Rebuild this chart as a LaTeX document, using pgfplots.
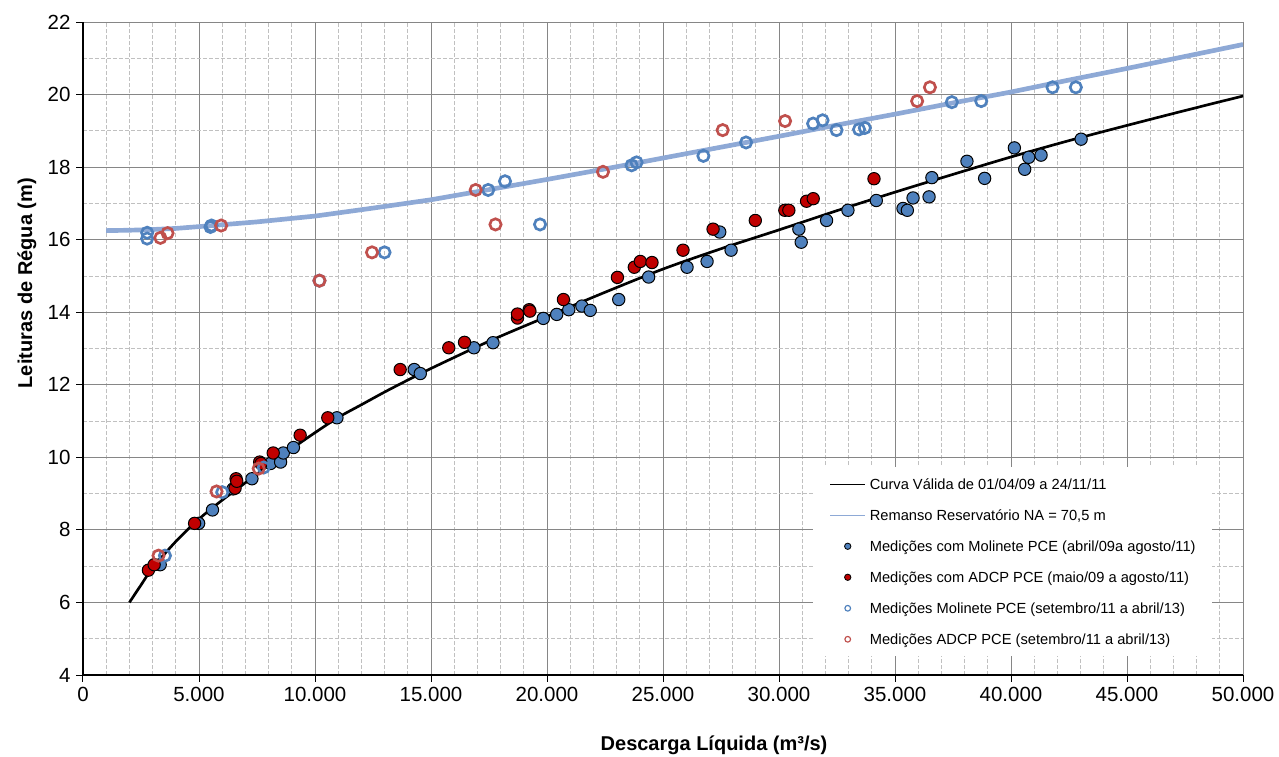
\documentclass[border=0pt]{standalone}
\usepackage{fontspec}
\setmainfont{Liberation Sans}
\usepackage{pgfplots}
\pgfplotsset{compat=1.18}
\definecolor{mblue}{HTML}{4F81BD}
\definecolor{mred}{HTML}{C00000}
\definecolor{oblue}{HTML}{4F81BD}
\definecolor{ored}{HTML}{C0504D}
\definecolor{rline}{RGB}{142,169,214}
\definecolor{majgrid}{HTML}{868686}
\definecolor{mingrid}{HTML}{C0C0C0}
\begin{document}
\begin{tikzpicture}
\begin{axis}[
  scale only axis, width=696pt, height=391.8pt,
  xmin=0, xmax=50000, ymin=4, ymax=22,
  scaled x ticks=false, scaled y ticks=false,
  axis x line*=bottom, axis y line*=left,
  x axis line style={black,line width=1pt},
  y axis line style={black,line width=1.3pt},
  xtick={0,5000,...,50000},
  xticklabels={0,5.000,10.000,15.000,20.000,25.000,30.000,35.000,40.000,45.000,50.000},
  ytick={4,6,...,22},
  yticklabels={4,6,8,10,12,14,16,18,20,22},
  minor x tick num=4, minor y tick num=1,
  grid=both,
  major grid style={majgrid,line width=0.6pt},
  minor grid style={mingrid,line width=0.5pt,dash pattern=on 2.4pt off 1.2pt},
  tick align=outside, major tick length=4pt, minor tick length=0pt,
  tick style={black,line width=0.6pt},
  ticklabel style={font=\fontsize{12.3}{14}\selectfont},
  xlabel={Descarga Líquida (m³/s)},
  ylabel={Leituras de Régua (m)},
  every axis x label/.style={at={(axis description cs:0.544,-0.1072)}, anchor=center, font=\bfseries\fontsize{12}{14}\selectfont},
  every axis y label/.style={at={(axis description cs:-0.0483,0.6)}, rotate=90, anchor=center, font=\bfseries\fontsize{12}{14}\selectfont},
  legend style={at={(rel axis cs:0.629,0.3185)}, anchor=north west, draw=none, fill=white,
    inner xsep=10pt, inner ysep=7pt, row sep=12.3pt, column sep=2.4pt,
    font=\fontsize{8.8}{10}\selectfont,
    nodes={inner sep=0pt, text height=6.3pt, text depth=0pt}},
  legend cell align=left,
]
% Remanso line
\addplot[rline, line width=2.8pt, forget plot] coordinates {
(1000,16.25) (2000,16.26) (3000,16.28) (4000,16.31) (5000,16.36) (7500,16.49)
(10000,16.65) (12500,16.87) (15000,17.10) (17500,17.38) (20000,17.66) (22500,17.95)
(25000,18.25) (27500,18.55) (30000,18.85) (32500,19.16) (35000,19.46) (37500,19.77)
(40000,20.07) (42500,20.40) (45000,20.72) (47500,21.05) (50000,21.38)};
% Curva valida
\addplot[black, line width=1.6pt, smooth, forget plot] coordinates {
(2000,6.0) (2500,6.48) (3000,6.95) (4000,7.68) (5000,8.3) (6000,8.82) (7000,9.3)
(8000,9.78) (9000,10.24) (10000,10.68) (11000,11.1) (12000,11.45) (13000,11.8)
(14000,12.13) (15000,12.45) (17500,13.2) (20000,13.88) (22500,14.55) (25000,15.19)
(27500,15.75) (30000,16.27) (32500,16.8) (35000,17.31) (37500,17.8) (40000,18.28)
(42500,18.73) (45000,19.15) (47500,19.56) (50000,19.96)};
% Molinete abril/09 - agosto/11
\addplot[only marks, mark=*, mark size=3.7pt, mark options={fill=mblue, draw=black, line width=0.6pt}, forget plot] coordinates {
(3328,7.04) (4985,8.18) (5581,8.55) (6470,9.13) (7282,9.41) (8081,9.83) (8517,9.87)
(8634,10.12) (9070,10.27) (10945,11.09)
(14277,12.42) (14538,12.31) (16850,13.02) (17673,13.16) (19841,13.83) (20419,13.94)
(20939,14.07) (21503,14.17) (21864,14.05) (23092,14.35)
(24381,14.97) (26036,15.24) (26899,15.40) (27446,16.21) (27935,15.71) (30856,16.29)
(30957,15.93) (32050,16.53) (32971,16.81) (34194,17.08) (35345,16.86) (35532,16.81)
(35777,17.15) (36468,17.18) (36590,17.71)
(38101,18.16) (38863,17.69) (40144,18.53) (40590,17.94) (40763,18.27) (41295,18.33)
(43022,18.77)};
% ADCP maio/09 - agosto/11
\addplot[only marks, mark=*, mark size=3.7pt, mark options={fill=mred, draw=black, line width=0.6pt}, forget plot] coordinates {
(2820,6.89) (3067,7.04) (4811,8.18) (6555,9.15) (6599,9.41) (6628,9.34) (7616,9.87)
(7674,9.83) (8198,10.12) (9360,10.61) (10552,11.09)
(13671,12.42) (15766,13.02) (16445,13.17) (18728,13.84) (18728,13.95) (19234,14.07)
(19263,14.03) (20708,14.35) (23035,14.96) (23763,15.24) (24022,15.40) (24525,15.37)
(25863,15.71) (27158,16.29) (28978,16.53) (30252,16.81) (30424,16.81) (31187,17.06)
(31475,17.13) (34094,17.68)};
% Molinete setembro/11 - abril/13
\addplot[only marks, draw=oblue, line width=1.6pt, mark=o, mark size=3.4pt, mark options={draw=oblue, line width=1.6pt, fill=none}, forget plot] coordinates {
(2766,16.19) (2766,16.03) (3532,7.29) (5493,16.35) (5540,16.39) (6003,9.04) (7791,9.72)
(10190,14.87) (12997,15.65) (17465,17.37) (18190,17.61) (19700,16.42) (23646,18.05)
(23860,18.13) (26740,18.31) (28580,18.68) (31470,19.20) (31877,19.29) (32480,19.02)
(33450,19.04) (33700,19.08) (37450,19.79) (38715,19.82) (41790,20.20) (42795,20.20)};
% ADCP setembro/11 - abril/13
\addplot[only marks, draw=ored, line width=1.6pt, mark=o, mark size=3.4pt, mark options={draw=ored, line width=1.6pt, fill=none}, forget plot] coordinates {
(3256,7.29) (3336,16.05) (3644,16.18) (5756,9.06) (5955,16.39) (7573,9.69) (10193,14.87)
(12457,15.65) (16926,17.37) (17780,16.42) (22413,17.87) (27572,19.02) (30262,19.27)
(35954,19.82) (36505,20.20)};
% legend
\addlegendimage{legend image code/.code={\path[draw=none,fill=none] (0pt,-3.15pt) rectangle (21pt,3.15pt); \draw[black,line width=0.7pt] (0pt,0pt)--(21pt,0pt);}}
\addlegendentry{Curva Válida de 01/04/09 a 24/11/11}
\addlegendimage{legend image code/.code={\path[draw=none,fill=none] (0pt,-3.15pt) rectangle (21pt,3.15pt); \draw[rline,line width=0.7pt] (0pt,0pt)--(21pt,0pt);}}
\addlegendentry{Remanso Reservatório NA = 70,5 m}
\addlegendimage{legend image code/.code={\path[draw=none,fill=none] (0pt,-3.15pt) rectangle (21pt,3.15pt); \filldraw[fill=mblue,draw=black,line width=0.5pt] (10.5pt,0pt) circle (1.9pt);}}
\addlegendentry{Medições com Molinete PCE (abril/09a agosto/11)}
\addlegendimage{legend image code/.code={\path[draw=none,fill=none] (0pt,-3.15pt) rectangle (21pt,3.15pt); \filldraw[fill=mred,draw=black,line width=0.5pt] (10.5pt,0pt) circle (1.9pt);}}
\addlegendentry{Medições com ADCP PCE (maio/09 a agosto/11)}
\addlegendimage{legend image code/.code={\path[draw=none,fill=none] (0pt,-3.15pt) rectangle (21pt,3.15pt); \draw[oblue,line width=0.7pt,fill=none] (10.5pt,0pt) circle (1.7pt);}}
\addlegendentry{Medições Molinete PCE (setembro/11 a abril/13)}
\addlegendimage{legend image code/.code={\path[draw=none,fill=none] (0pt,-3.15pt) rectangle (21pt,3.15pt); \draw[ored,line width=0.7pt,fill=none] (10.5pt,0pt) circle (1.7pt);}}
\addlegendentry{Medições ADCP PCE (setembro/11 a abril/13)}
\end{axis}
\pgfresetboundingbox
\path ([shift={(-49.8pt,-48.6pt)}]current axis.south west) rectangle ([shift={(21.6pt,13.2pt)}]current axis.north east);
\end{tikzpicture}
\end{document}
